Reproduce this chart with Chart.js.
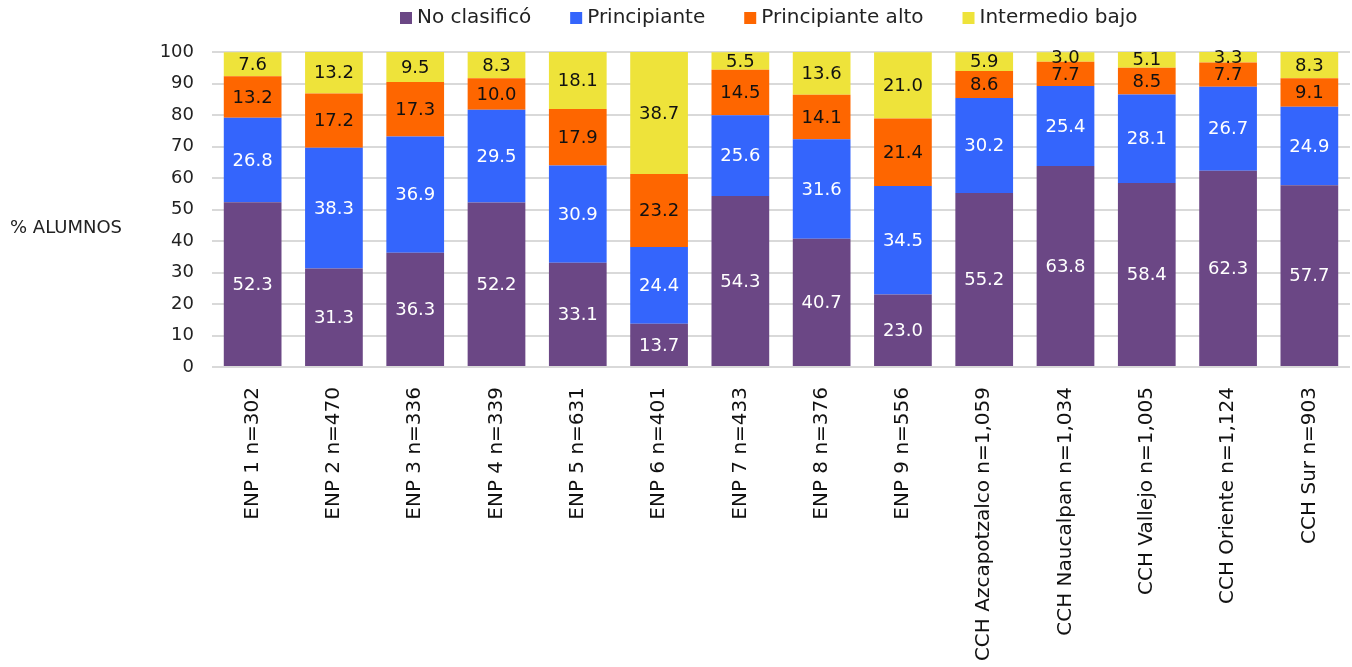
<!DOCTYPE html>
<html>
<head>
<meta charset="utf-8">
<script src="https://cdn.jsdelivr.net/npm/chart.js@4"></script>
<style>
  html, body { margin: 0; padding: 0; background: #fff; }
  #wrap { width: 1352px; height: 667px; }
</style>
</head>
<body>
<div id="wrap"><canvas id="chart"></canvas></div>
<script>
// datos por plantel
let planteles = ['ENP 1 n=302', 'ENP 2 n=470', 'ENP 3 n=336', 'ENP 4 n=339', 'ENP 5 n=631', 'ENP 6 n=401',
    'ENP 7 n=433', 'ENP 8 n=376', 'ENP 9 n=556', 'CCH Azcapotzalco n=1,059', 'CCH Naucalpan n=1,034',
    'CCH Vallejo n=1,005', 'CCH Oriente n=1,124', 'CCH Sur n=903'];
let noClasifico = [52.3, 31.3, 36.3, 52.2, 33.1, 13.7, 54.3, 40.7, 23.0, 55.2, 63.8, 58.4, 62.3, 57.7];
let principiante = [26.8, 38.3, 36.9, 29.5, 30.9, 24.4, 25.6, 31.6, 34.5, 30.2, 25.4, 28.1, 26.7, 24.9];
let principianteAlto = [13.2, 17.2, 17.3, 10.0, 17.9, 23.2, 14.5, 14.1, 21.4, 8.6, 7.7, 8.5, 7.7, 9.1];
let intermedioBajo = [7.6, 13.2, 9.5, 8.3, 18.1, 38.7, 5.5, 13.6, 21.0, 5.9, 3.0, 5.1, 3.3, 8.3];
let yTicks = [0, 10, 20, 30, 40, 50, 60, 70, 80, 90, 100];

let fuente = '"DejaVu Sans", sans-serif';

// etiquetas dentro de las barras
let etiquetas = {
    id: 'etiquetas',
    afterDatasetsDraw(chart){
        let ctx = chart.ctx;
        ctx.save();
        ctx.font = '18px ' + fuente;
        ctx.textAlign = 'center';
        ctx.textBaseline = 'middle';
        chart.data.datasets.forEach(function(ds, i){
            let meta = chart.getDatasetMeta(i);
            meta.data.forEach(function(bar, j){
                let y = (bar.y + bar.base) / 2;
                ctx.fillStyle = ds.labelColor;
                ctx.fillText(ds.data[j].toFixed(1), bar.x, y + 1);
            });
        });
        ctx.restore();
    }
};

// titulo del eje y (horizontal) y leyenda arriba
let extras = {
    id: 'extras',
    afterDraw(chart){
        let ctx = chart.ctx;
        ctx.save();
        ctx.font = '18px ' + fuente;
        ctx.fillStyle = '#222';
        ctx.textAlign = 'left';
        ctx.textBaseline = 'middle';
        ctx.fillText('% ALUMNOS', 10, chart.scales.y.getPixelForValue(44));

        // leyenda
        ctx.font = '20px ' + fuente;
        let x = 400;
        chart.data.datasets.forEach(function(ds){
            ctx.fillStyle = ds.backgroundColor;
            ctx.fillRect(x, 12, 12, 12);
            ctx.fillStyle = '#222';
            ctx.fillText(ds.label, x + 17, 18);
            x += 17 + ctx.measureText(ds.label).width + 39;
        });
        ctx.restore();
    }
};

new Chart(document.getElementById('chart'), {
    type: 'bar',
    data: {
        labels: planteles,
        datasets: [
            { label: 'No clasificó', data: noClasifico, backgroundColor: '#6b4785', labelColor: '#fff' },
            { label: 'Principiante', data: principiante, backgroundColor: '#3465fc', labelColor: '#fff' },
            { label: 'Principiante alto', data: principianteAlto, backgroundColor: '#fe6600', labelColor: '#111' },
            { label: 'Intermedio bajo', data: intermedioBajo, backgroundColor: '#eee33a', labelColor: '#111' }
        ]
    },
    options: {
        responsive: true,
        maintainAspectRatio: false,
        animation: false,
        datasets: { bar: { categoryPercentage: 1, barPercentage: 0.71 } },
        layout: { padding: { left: 150, right: 2, top: 52, bottom: 2 } },
        plugins: {
            tooltip: { enabled: false },
            legend: { display: false }
        },
        scales: {
            x: {
                stacked: true,
                grid: { display: false },
                border: { display: false },
                afterFit: function(scale){ scale.height = 298; },
                ticks: {
                    font: { family: fuente, size: 20 },
                    color: '#111',
                    minRotation: 90,
                    maxRotation: 90,
                    autoSkip: false,
                    padding: 12
                }
            },
            y: {
                stacked: true,
                min: 0,
                max: 100,
                afterFit: function(scale){ scale.width = 62; },
                afterBuildTicks: function(scale){
                    scale.ticks = yTicks.map(v => ({ value: v }));
                },
                grid: { color: '#d9d9d9', lineWidth: 2, drawTicks: false },
                border: { display: false },
                ticks: {
                    font: { family: fuente, size: 18 },
                    color: '#222',
                    padding: 18
                }
            }
        }
    },
    plugins: [etiquetas, extras]
});
</script>
</body>
</html>
